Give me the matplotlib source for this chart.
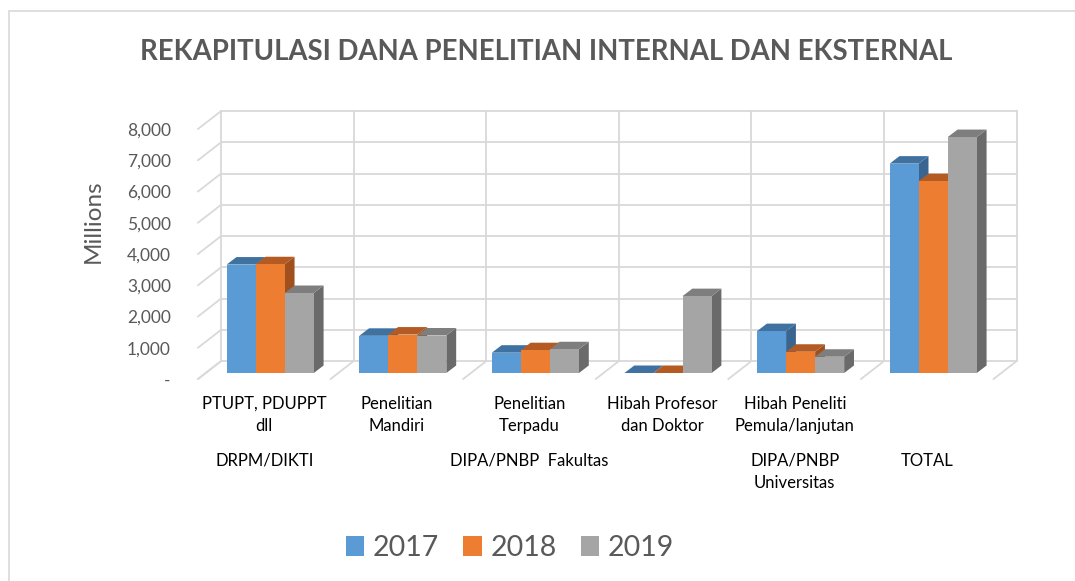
import numpy as np
import matplotlib
matplotlib.use("Agg")
import matplotlib.pyplot as plt
from matplotlib.patches import Polygon, Patch, Rectangle
import matplotlib.transforms as mtransforms

plt.rcParams['font.family'] = ['Lato', 'DejaVu Sans']

# data (Millions)
kategori = ["PTUPT, PDUPPT\ndll", "Penelitian\nMandiri", "Penelitian\nTerpadu",
            "Hibah Profesor\ndan Doktor", "Hibah Peneliti\nPemula/lanjutan", ""]
grup = ["DRPM/DIKTI", "DIPA/PNBP  Fakultas", "DIPA/PNBP\nUniversitas", "TOTAL"]
grup_pos = [0, 2, 4, 5]
tahun = ["2017", "2018", "2019"]
v2017 = [3470, 1190, 650, 0, 1340, 6700]
v2018 = [3480, 1230, 730, 0, 680, 6140]
v2019 = [2560, 1200, 760, 2460, 520, 7550]
yticks = [0, 1000, 2000, 3000, 4000, 5000, 6000, 7000, 8000]
ytick_lbl = ["-", "1,000", "2,000", "3,000", "4,000", "5,000", "6,000", "7,000", "8,000"]

warna = ["#5b9bd5", "#ed7d31", "#a5a5a5"]
warna_atas = ["#3f72a0", "#b35b22", "#7e7e7e"]
warna_sisi = ["#396690", "#9f501d", "#6a6a6a"]
grid_c = "#d9d9d9"

W, H = 1075, 581
fig = plt.figure(figsize=(W / 100, H / 100), dpi=100)

# pixel geometry of the bar plane
X0, SLOT = 205.7, 132.6
Y0, PPV = 373.0, 0.03125
L, R, T, B = 175, 1050, 90, 392
ax = fig.add_axes([L / W, (H - B) / H, (R - L) / W, (B - T) / H])
ax.set_xlim((L - X0) / SLOT, (R - X0) / SLOT)
ax.set_ylim((Y0 - B) / PPV, (Y0 - T) / PPV)
for s in ax.spines.values():
    s.set_visible(False)
ax.set_xticks([])

# depth of the 3D box
DX, DY = 0.173, 570
fdx, fdy = -DX / 3, -DY / 3        # front plane
bdx, bdy = DX * 2 / 3, DY * 2 / 3  # back wall
n = len(v2017)
lw = 1.3

# back wall + side wall + floor lines
for yv in yticks:
    ax.plot([bdx, n + bdx], [yv + bdy, yv + bdy], color=grid_c, lw=lw, zorder=1)
    ax.plot([fdx, bdx], [yv + fdy, yv + bdy], color=grid_c, lw=lw, zorder=1)
for k in range(n + 1):
    ax.plot([k + bdx, k + bdx], [bdy, yticks[-1] + bdy], color=grid_c, lw=lw, zorder=1)
    ax.plot([k + fdx, k + bdx], [fdy, bdy], color=grid_c, lw=lw, zorder=1)

ax.set_yticks([y + fdy for y in yticks])
ax.set_yticklabels(ytick_lbl)
ax.tick_params(axis='y', length=0, pad=3, labelsize=12.5, labelcolor="#595959")

# bars with fake depth
off, bw = 0.158, 0.219
ddx, ddy = 0.074, 240
x = np.arange(n)
for j, vals in enumerate([v2017, v2018, v2019]):
    xl = x + off + j * bw
    z = 3 + 3 * j
    ax.bar(xl, vals, width=bw, align='edge', color=warna[j], lw=0, zorder=z + 2)
    for xi, v in zip(xl, vals):
        top = [(xi, v), (xi + bw, v), (xi + bw + ddx, v + ddy), (xi + ddx, v + ddy)]
        side = [(xi + bw, 0), (xi + bw, v), (xi + bw + ddx, v + ddy), (xi + bw + ddx, ddy)]
        ax.add_patch(Polygon(side, closed=True, fc=warna_sisi[j], lw=0, zorder=z))
        ax.add_patch(Polygon(top, closed=True, fc=warna_atas[j], lw=0, zorder=z + 1))

# category labels (two levels)
tr = mtransforms.blended_transform_factory(ax.transData, fig.transFigure)
for k, lab in enumerate(kategori):
    if lab:
        ax.text(k + 0.5 + fdx, 1 - 415 / H, lab, transform=tr, ha='center', va='center',
                fontsize=12, color="black", linespacing=1.45)
for k, lab in zip(grup_pos, grup):
    ax.text(k + 0.5 + fdx, 1 - 453 / H, lab, transform=tr, ha='center', va='top',
            fontsize=12, color="black", linespacing=1.45)

fig.text(546 / W, 1 - 52 / H, "REKAPITULASI DANA PENELITIAN INTERNAL DAN EKSTERNAL",
         ha='center', va='center', fontsize=19.8, fontweight='bold', color="#595959")
fig.text(93 / W, 1 - 221 / H, "Millions", rotation=90, ha='center', va='center',
         fontsize=17.5, color="#595959")

handles = [Patch(facecolor=c, edgecolor='none') for c in warna]
fig.legend(handles, tahun, loc='center', bbox_to_anchor=(510 / W, 1 - 548 / H),
           ncol=3, frameon=False, fontsize=20.5, labelcolor="#595959",
           handlelength=0.65, handleheight=0.65, handletextpad=0.3, columnspacing=0.85)

fig.patches.append(Rectangle((9 / W, -0.1), 1.2, 1.1 - 11 / H, transform=fig.transFigure,
                             fill=False, edgecolor=grid_c, lw=1.2))

fig.savefig("out.png", dpi=100)
